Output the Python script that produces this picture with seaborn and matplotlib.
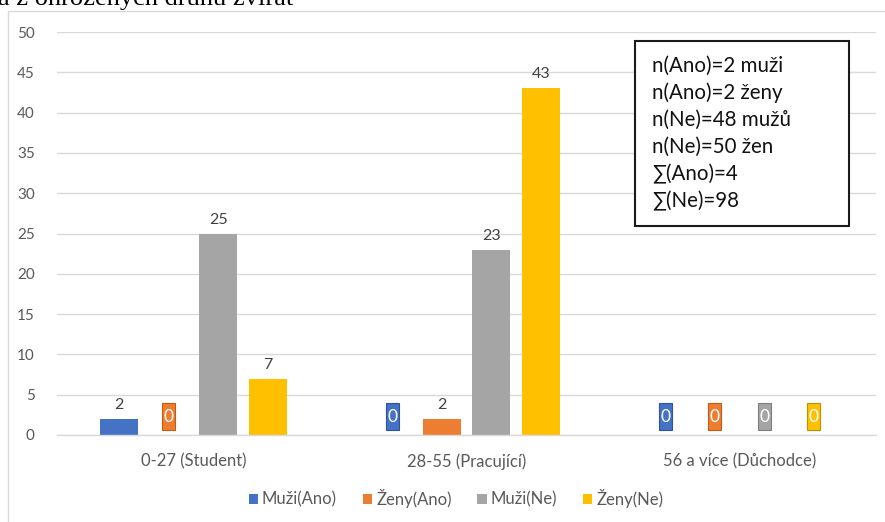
import matplotlib
matplotlib.use("Agg")
import matplotlib.pyplot as plt
from matplotlib.patches import Rectangle
import seaborn as sns
import pandas as pd

# Age groups and respondent counts per answer / gender
categories = ["0-27 (Student)", "28-55 (Pracující)", "56 a více (Důchodce)"]
series_names = ["Muži(Ano)", "Ženy(Ano)", "Muži(Ne)", "Ženy(Ne)"]
muzi_ano = [2, 0, 0]
zeny_ano = [0, 2, 0]
muzi_ne = [25, 23, 0]
zeny_ne = [7, 43, 0]
colors = ["#4472C4", "#ED7D31", "#A5A5A5", "#FFC000"]
edge_dark = ["#2F5597", "#C55A11", "#7F7F7F", "#BF9000"]
y_ticks = [0, 5, 10, 15, 20, 25, 30, 35, 40, 45, 50]
summary_lines = ["n(Ano)=2 muži", "n(Ano)=2 ženy", "n(Ne)=48 mužů",
                 "n(Ne)=50 žen", "∑(Ano)=4", "∑(Ne)=98"]
title_fragment = "a z ohrožených druhů zvířat"

rows = []
for name, vals in zip(series_names, [muzi_ano, zeny_ano, muzi_ne, zeny_ne]):
    for cat, v in zip(categories, vals):
        rows.append({"kategorie": cat, "pocet": v, "skupina": name})
df = pd.DataFrame(rows)

sns.set_theme(style="white")
FONT = ["Lato", "DejaVu Sans"]
plt.rcParams["font.family"] = FONT

W, H = 885, 522
fig = plt.figure(figsize=(W / 100, H / 100), dpi=100)
ax = fig.add_axes([57 / W, 1 - 435 / H, (876 - 57) / W, (435 - 32) / H])

sns.barplot(data=df, x="kategorie", y="pocet", hue="skupina",
            order=categories, hue_order=series_names, palette=colors,
            width=0.725, gap=0.23, saturation=1, linewidth=0, ax=ax)

ax.set_ylim(0, 50)
ax.set_yticks(y_ticks)
ax.yaxis.grid(True, color="#D9D9D9", linewidth=1)
ax.set_axisbelow(True)
for s in ["top", "right", "left"]:
    ax.spines[s].set_visible(False)
ax.spines["bottom"].set_color("#D9D9D9")
ax.spines["bottom"].set_linewidth(1)
ax.tick_params(axis="x", length=0, colors="#595959", labelsize=12, pad=13)
ax.tick_params(axis="y", length=0, colors="#595959", labelsize=11, pad=16)
ax.set_xlabel("")
ax.set_ylabel("")

# value labels: plain text above bars, boxed white text for zero values
for cont, col, ec in zip(ax.containers, colors, edge_dark):
    for bar in cont:
        h = bar.get_height()
        xc = bar.get_x() + bar.get_width() / 2
        if h == 0:
            ax.add_patch(Rectangle((xc - 0.024, 0.62), 0.048, 3.35,
                                   fc=col, ec=ec, lw=0.8, zorder=4))
            ax.text(xc, 2.25, "0", ha="center", va="center", color="white",
                    fontsize=12.5, zorder=5)
        else:
            ax.annotate(f"{h:g}", (xc, h), xytext=(0, 5), textcoords="offset points",
                        ha="center", va="bottom", color="#404040", fontsize=11.5)

sns.move_legend(ax, "center", bbox_to_anchor=(456 / W, 1 - 498 / H),
                bbox_transform=fig.transFigure, ncol=4, frameon=False,
                title=None, fontsize=12, handlelength=0.55, handleheight=0.55,
                handletextpad=0.25, columnspacing=1.55, labelcolor="#595959")

# chart frame
fig.add_artist(Rectangle((8 / W, -0.1), 1.2, 1.1 - 11 / H,
                         transform=fig.transFigure, fill=False,
                         ec="#D9D9D9", lw=1))

# summary box
fig.add_artist(Rectangle((635 / W, 1 - 226 / H), (849 - 635) / W, (226 - 41) / H,
                         transform=fig.transFigure, fc="white", ec="#1a1a1a", lw=1.5))
for i, line in enumerate(summary_lines):
    fig.text(652 / W, 1 - (66 + 27 * i) / H, line, ha="left", va="center",
             fontsize=14.8, color="#111111", family=FONT)

# title line above the chart frame
fig.text(-2 / W, 1 - 5 / H, title_fragment, ha="left", va="baseline",
         fontsize=19, color="black", family=["Liberation Serif", "DejaVu Serif"])

fig.savefig("out.png", dpi=100)
